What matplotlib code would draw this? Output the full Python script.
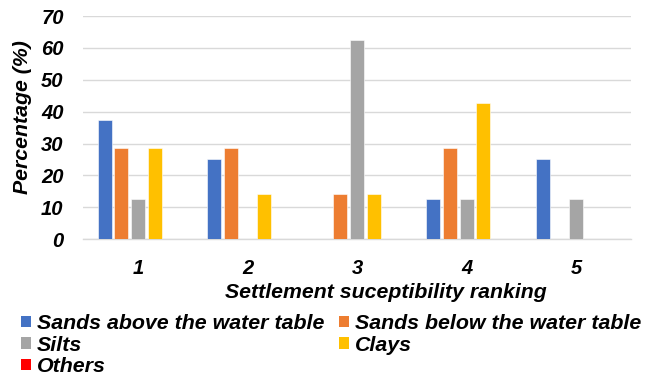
import matplotlib
matplotlib.use("Agg")
import matplotlib.pyplot as plt
from matplotlib.patches import Patch
import numpy as np

# Settlement susceptibility ranking data (percentage of sites per soil type)
rankings = ["1", "2", "3", "4", "5"]
series_names = ["Sands above the water table", "Sands below the water table",
                "Silts", "Clays", "Others"]
sands_above = [37.5, 25.0, 0.0, 12.5, 25.0]
sands_below = [28.57, 28.57, 14.29, 28.57, 0.0]
silts = [12.5, 0.0, 62.5, 12.5, 12.5]
clays = [28.57, 14.29, 14.29, 42.86, 0.0]
others = [0.0, 0.0, 0.0, 0.0, 0.0]
colors = ["#4472C4", "#ED7D31", "#A5A5A5", "#FFC000", "#FF0000"]
y_ticks = [0, 10, 20, 30, 40, 50, 60, 70]

plt.rcParams["font.family"] = ["Liberation Sans", "DejaVu Sans"]
font = dict(fontweight="bold", fontstyle="italic")

fig = plt.figure(figsize=(6.54, 3.82), dpi=100)
ax = fig.add_axes([0.127, 0.374, 0.838, 0.584])

x = np.arange(len(rankings))
all_series = [sands_above, sands_below, silts, clays, others]
step = 0.152
for i, (vals, c) in enumerate(zip(all_series, colors)):
    ax.bar(x + (i - 2) * step, vals, width=0.128, color=c,
           edgecolor="white", linewidth=0.4, zorder=3)

ax.set_xlim(-0.5, len(rankings) - 0.5)
ax.set_ylim(0, 70)
ax.set_yticks(y_ticks)
ax.set_yticklabels([str(t) for t in y_ticks], fontsize=14.5, **font)
ax.yaxis.grid(True, color="#D9D9D9", linewidth=1.0, zorder=0)
ax.tick_params(axis="y", length=0, pad=14)

ax.set_xticks(x)
ax.set_xticklabels(rankings, fontsize=14.5, **font)
ax.tick_params(axis="x", length=0, pad=14)

for s in ["top", "right", "left"]:
    ax.spines[s].set_visible(False)
ax.spines["bottom"].set_color("#D9D9D9")
ax.spines["bottom"].set_linewidth(1.0)

ax.set_ylabel("Percentage (%)", fontsize=15.3, **font)
ax.yaxis.set_label_coords(-0.093, 0.545)
ax.set_xlabel("Settlement suceptibility ranking", fontsize=15.3, **font)
ax.xaxis.set_label_coords(0.553, -0.197)

handles = [Patch(facecolor=c, edgecolor="none", label=n)
           for n, c in zip(series_names, colors)]
order = [0, 2, 4, 1, 3]
fig.legend([handles[k] for k in order], [series_names[k] for k in order],
           ncol=2, loc="upper left", bbox_to_anchor=(0.032, 0.178),
           frameon=False, handlelength=0.47, handleheight=0.47,
           handletextpad=0.28, columnspacing=0.7, labelspacing=0.12,
           borderaxespad=0, borderpad=0,
           prop=dict(family=["Liberation Sans"], weight="bold",
                     style="italic", size=15.4))

fig.savefig("out.png", dpi=100, facecolor="white")
